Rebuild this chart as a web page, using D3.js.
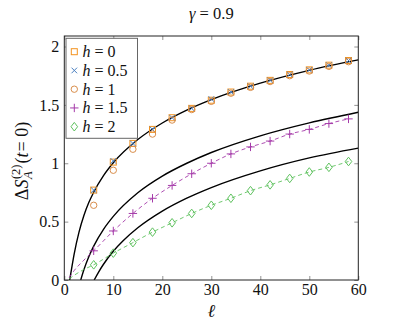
<!DOCTYPE html>
<html>
<head>
<meta charset="utf-8">
<script src="https://cdn.jsdelivr.net/npm/d3@7.9.0/dist/d3.min.js"></script>
<style>
  body { margin: 0; background: #fff; }
  svg { display: block; }
  svg text { font-family: "Liberation Serif", serif; }
</style>
</head>
<body>
<div id="chart"></div>
<script>
// sampled lengths (markers)
const ells = [6, 10, 14, 18, 22, 26, 30, 34, 38, 42, 46, 50, 54, 58];

// numerical data, one array per h
const h0  = [0.77, 1.01, 1.17, 1.29, 1.39, 1.47, 1.54, 1.61, 1.66, 1.71, 1.76, 1.80, 1.84, 1.88];
const h05 = [0.77, 1.02, 1.17, 1.29, 1.39, 1.47, 1.55, 1.61, 1.66, 1.71, 1.76, 1.80, 1.84, 1.88];
const h1  = [0.64, 0.94, 1.12, 1.25, 1.37, 1.46, 1.53, 1.60, 1.65, 1.70, 1.75, 1.79, 1.83, 1.87];
const h15 = [0.25, 0.42, 0.57, 0.70, 0.81, 0.91, 1.00, 1.08, 1.14, 1.19, 1.25, 1.29, 1.34, 1.38];
const h2  = [0.13, 0.23, 0.32, 0.41, 0.49, 0.57, 0.64, 0.70, 0.765, 0.815, 0.87, 0.925, 0.965, 1.015];

// dashed guide lines start a bit before the first marker
const dashHeadEll = [1, 2, 4];
const dash15Head = [0.02, 0.08, 0.17];
const dash2Head  = [0.01, 0.04, 0.09];

// black analytic curves
const curveAEll = [1.1, 1.5, 2, 3, 4, 5, 6, 8, 10, 15, 20, 25, 30, 40, 50, 60];
const curveAVal = [0, 0.10, 0.22, 0.41, 0.553, 0.663, 0.752, 0.894, 1.004, 1.203, 1.345, 1.455, 1.545, 1.686, 1.796, 1.885];
const curveBEll = [3.35, 4, 5, 6, 8, 10, 15, 20, 25, 30, 40, 50, 60];
const curveBVal = [0, 0.088, 0.199, 0.29, 0.434, 0.545, 0.747, 0.89, 1.0, 1.092, 1.235, 1.346, 1.437];
const curveCEll = [6.1, 7, 8, 10, 12, 15, 20, 25, 30, 40, 50, 60];
const curveCVal = [0, 0.068, 0.135, 0.246, 0.336, 0.447, 0.59, 0.701, 0.792, 0.935, 1.046, 1.13];

const xTicks = [0, 10, 20, 30, 40, 50, 60];
const yTicks = [0, 0.5, 1, 1.5, 2];
const legendLabels = ["0", "0.5", "1", "1.5", "2"];

const W = 408, H = 330;
const FONT = "Liberation Serif";
const svg = d3.select("#chart").append("svg").attr("width", W).attr("height", H)
  .attr("font-family", FONT);

const x = d3.scaleLinear().domain([0, 60]).range([64.3, 358.3]);
const y = d3.scaleLinear().domain([0, 2.09]).range([280, 36]);

const [x0, x1] = x.range();
const [yb, yt] = y.range();

svg.append("defs").append("clipPath").attr("id", "plot-clip")
  .append("rect").attr("x", x0).attr("y", yt).attr("width", x1 - x0).attr("height", yb - yt);

const fs = 16;

// axes: inward ticks, mirrored
function styleAxis(g) {
  g.attr("font-family", FONT).attr("font-size", fs);
  g.select(".domain").remove();
  g.selectAll(".tick line").attr("stroke", "#777").attr("stroke-width", 0.8);
  g.selectAll(".tick text").attr("fill", "#111");
}
svg.append("g").attr("transform", `translate(0,${yb})`)
  .call(d3.axisBottom(x).tickValues(xTicks).tickSize(-4).tickPadding(4).tickFormat(d3.format("d")))
  .call(styleAxis);
svg.append("g").attr("transform", `translate(0,${yt})`)
  .call(d3.axisTop(x).tickValues(xTicks).tickSize(-4).tickFormat(""))
  .call(styleAxis);
svg.append("g").attr("transform", `translate(${x0},0)`)
  .call(d3.axisLeft(y).tickValues(yTicks).tickSize(-4).tickPadding(5).tickFormat(d => String(d)))
  .call(styleAxis);
svg.append("g").attr("transform", `translate(${x1},0)`)
  .call(d3.axisRight(y).tickValues(yTicks).tickSize(-4).tickFormat(""))
  .call(styleAxis);

const plot = svg.append("g").attr("clip-path", "url(#plot-clip)");

const line = d3.line().x(d => x(d[0])).y(d => y(d[1])).curve(d3.curveMonotoneX);

// black curves
[[curveAEll, curveAVal], [curveBEll, curveBVal], [curveCEll, curveCVal]].forEach(([ls, vs]) => {
  plot.append("path")
    .datum(d3.zip(ls, vs))
    .attr("fill", "none").attr("stroke", "#000").attr("stroke-width", 1.4)
    .attr("d", line);
});

// dashed lines through h=1.5 and h=2
const purple = "#a53aa9", green = "#5fc25f";
[[dash15Head, h15, purple], [dash2Head, h2, green]].forEach(([head, vals, col]) => {
  plot.append("path")
    .datum(d3.zip(dashHeadEll.concat(ells), head.concat(vals)))
    .attr("fill", "none").attr("stroke", col).attr("stroke-width", 0.9)
    .attr("stroke-dasharray", "4,3")
    .attr("d", line);
});

// marker shapes
const markers = {
  square: (g, col) => g.append("rect").attr("x", -3).attr("y", -3).attr("width", 6).attr("height", 6)
    .attr("fill", "none").attr("stroke", col).attr("stroke-width", 1),
  cross: (g, col) => g.append("path").attr("d", "M-2.8,-2.8L2.8,2.8M-2.8,2.8L2.8,-2.8")
    .attr("stroke", col).attr("stroke-width", 1),
  circle: (g, col) => g.append("circle").attr("r", 3.2)
    .attr("fill", "none").attr("stroke", col).attr("stroke-width", 1),
  plus: (g, col) => g.append("path").attr("d", "M-4.2,0L4.2,0M0,-4.2L0,4.2")
    .attr("stroke", col).attr("stroke-width", 1),
  diamond: (g, col) => g.append("path").attr("d", "M0,-4.3L3.3,0L0,4.3L-3.3,0Z")
    .attr("fill", "none").attr("stroke", col).attr("stroke-width", 1)
};

const series = [
  { vals: h0,  shape: "square",  color: "#f39320" },
  { vals: h05, shape: "cross",   color: "#4a7fc0" },
  { vals: h1,  shape: "circle",  color: "#d98e4c" },
  { vals: h15, shape: "plus",    color: purple },
  { vals: h2,  shape: "diamond", color: green }
];

series.forEach(s => {
  plot.selectAll(null)
    .data(d3.zip(ells, s.vals))
    .join("g")
      .attr("transform", d => `translate(${x(d[0])},${y(d[1])})`)
      .each(function () { markers[s.shape](d3.select(this), s.color); });
});

// frame
svg.append("rect").attr("x", x0).attr("y", yt).attr("width", x1 - x0).attr("height", yb - yt)
  .attr("fill", "none").attr("stroke", "#222").attr("stroke-width", 1);

// legend
const legend = svg.append("g");
legend.append("rect").attr("x", 66).attr("y", 38.3).attr("width", 71.5).attr("height", 100)
  .attr("fill", "#fff").attr("stroke", "#666").attr("stroke-width", 1);
series.forEach((s, i) => {
  const cy = 51.7 + i * 18.75;
  markers[s.shape](legend.append("g").attr("transform", `translate(74.3,${cy})`), s.color);
  const t = legend.append("text").attr("x", 82.5).attr("y", cy + 5.3)
    .attr("font-family", FONT).attr("font-size", fs).attr("fill", "#111");
  t.append("tspan").attr("font-style", "italic").text("h");
  t.append("tspan").text(" = " + legendLabels[i]);
});

// title
const title = svg.append("text").attr("x", (x0 + x1) / 2).attr("y", 19)
  .attr("text-anchor", "middle").attr("font-family", FONT).attr("font-size", 16.5).attr("fill", "#111");
title.append("tspan").attr("font-style", "italic").text("γ");
title.append("tspan").text(" = 0.9");

// x label
svg.append("text").attr("x", (x0 + x1) / 2).attr("y", 317)
  .attr("text-anchor", "middle").attr("font-family", FONT).attr("font-size", 18)
  .attr("font-style", "italic").attr("fill", "#111").text("ℓ");

// y label: ΔS_A^(2)(t = 0)
const yl = svg.append("g").attr("transform", `translate(27.5,${(yt + yb) / 2 + 3}) rotate(-90)`);
const big = 18, small = 12.5;
let cx = 0;
function piece(txt, size, italic, dy) {
  return yl.append("text").attr("x", cx).attr("y", dy)
    .attr("font-family", FONT).attr("font-size", size)
    .attr("font-style", italic ? "italic" : "normal")
    .attr("fill", "#111").text(txt);
}
let el = piece("Δ", big, false, 0); cx += el.node().getComputedTextLength();
el = piece("S", big, true, 0); cx += el.node().getComputedTextLength() + 0.5;
const supEl = piece("(2)", small, false, -7.5);
const subEl = piece("A", small, true, 4);
cx += Math.max(supEl.node().getComputedTextLength(), subEl.node().getComputedTextLength()) + 1;
el = piece("(", big, false, 0); cx += el.node().getComputedTextLength();
el = piece("t", big, true, 0); cx += el.node().getComputedTextLength() + 1;
el = piece(" = 0)", big, false, 0); cx += el.node().getComputedTextLength();
yl.selectAll("text").attr("transform", `translate(${-cx / 2},0)`);
</script>
</body>
</html>
